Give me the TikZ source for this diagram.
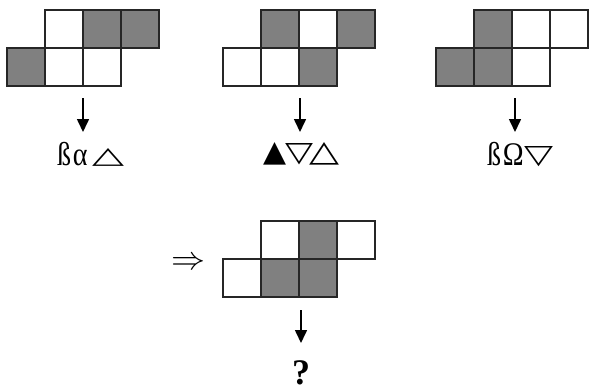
\documentclass[tikz,border=0pt]{standalone}
\usepackage{fontspec}
\setmainfont{Liberation Serif}
\newfontfamily\symfont{DejaVu Sans}
\usetikzlibrary{arrows.meta}

\colorlet{shade}{black!50}
\newcommand{\uptri}[2]{\raisebox{2pt}{\resizebox{#1}{#2}{\symfont △}}}
\newcommand{\dntri}[2]{\raisebox{2pt}{\resizebox{#1}{#2}{\symfont ▽}}}
\newcommand{\fulltri}[2]{\raisebox{2pt}{\resizebox{#1}{#2}{\symfont ▲}}}
\newcommand{\narrow}[1]{\scalebox{0.85}[1]{#1}}

\tikzset{
  cell/.style={draw=black!85, line width=2pt},
  down/.style={-{Triangle[length=13pt,width=12pt]}, line width=1.6pt},
  result/.style={font=\fontsize{33}{35}\selectfont, inner sep=0pt, anchor=base west},
}

\begin{document}
\begin{tikzpicture}[x=1pt,y=-1pt]
\useasboundingbox (0,0) rectangle (589,391);
% three solved pieces
\foreach \c/\r/\f in {1/0/white,2/0/shade,3/0/shade,0/1/shade,1/1/white,2/1/white}
  \filldraw[cell,fill=\f] (7+38*\c,10+38*\r) rectangle ++(38,38);
\foreach \c/\r/\f in {1/0/shade,2/0/white,3/0/shade,0/1/white,1/1/white,2/1/shade}
  \filldraw[cell,fill=\f] (223+38*\c,10+38*\r) rectangle ++(38,38);
\foreach \c/\r/\f in {1/0/shade,2/0/white,3/0/white,0/1/shade,1/1/shade,2/1/white}
  \filldraw[cell,fill=\f] (436+38*\c,10+38*\r) rectangle ++(38,38);
% piece to solve
\foreach \c/\r/\f in {1/0/white,2/0/shade,3/0/white,0/1/white,1/1/shade,2/1/shade}
  \filldraw[cell,fill=\f] (223+38*\c,221+38*\r) rectangle ++(38,38);

\coordinate (a1) at (83,98);   \coordinate (b1) at (83,132);
\coordinate (a2) at (300,98);  \coordinate (b2) at (300,132);
\coordinate (a3) at (515,98);  \coordinate (b3) at (515,132);
\coordinate (a4) at (301,310); \coordinate (b4) at (301,343);
\foreach \i in {1,...,4}
  \draw[down] (a\i) -- (b\i);

\node[result] (t1) at (57,165) {\makebox[35pt][l]{\narrow{ß\kern2ptα}}\uptri{32pt}{15pt}};
\node[result] (t2) at (263,163) {\fulltri{23pt}{19pt}\kern-1pt\dntri{28pt}{18pt}\kern-4pt\uptri{30pt}{19pt}};
\node[result] (t3) at (487,165) {\makebox[37pt][l]{\narrow{ß\kern2ptΩ}}\dntri{29pt}{17pt}};
\node[font=\bfseries\fontsize{36}{38}\selectfont, inner sep=0pt, anchor=base] (q) at (301,384) {?};
\node[inner sep=0pt] (imp) at (188,263) {\resizebox{34pt}{12pt}{$\Rightarrow$}};
\end{tikzpicture}
\end{document}
